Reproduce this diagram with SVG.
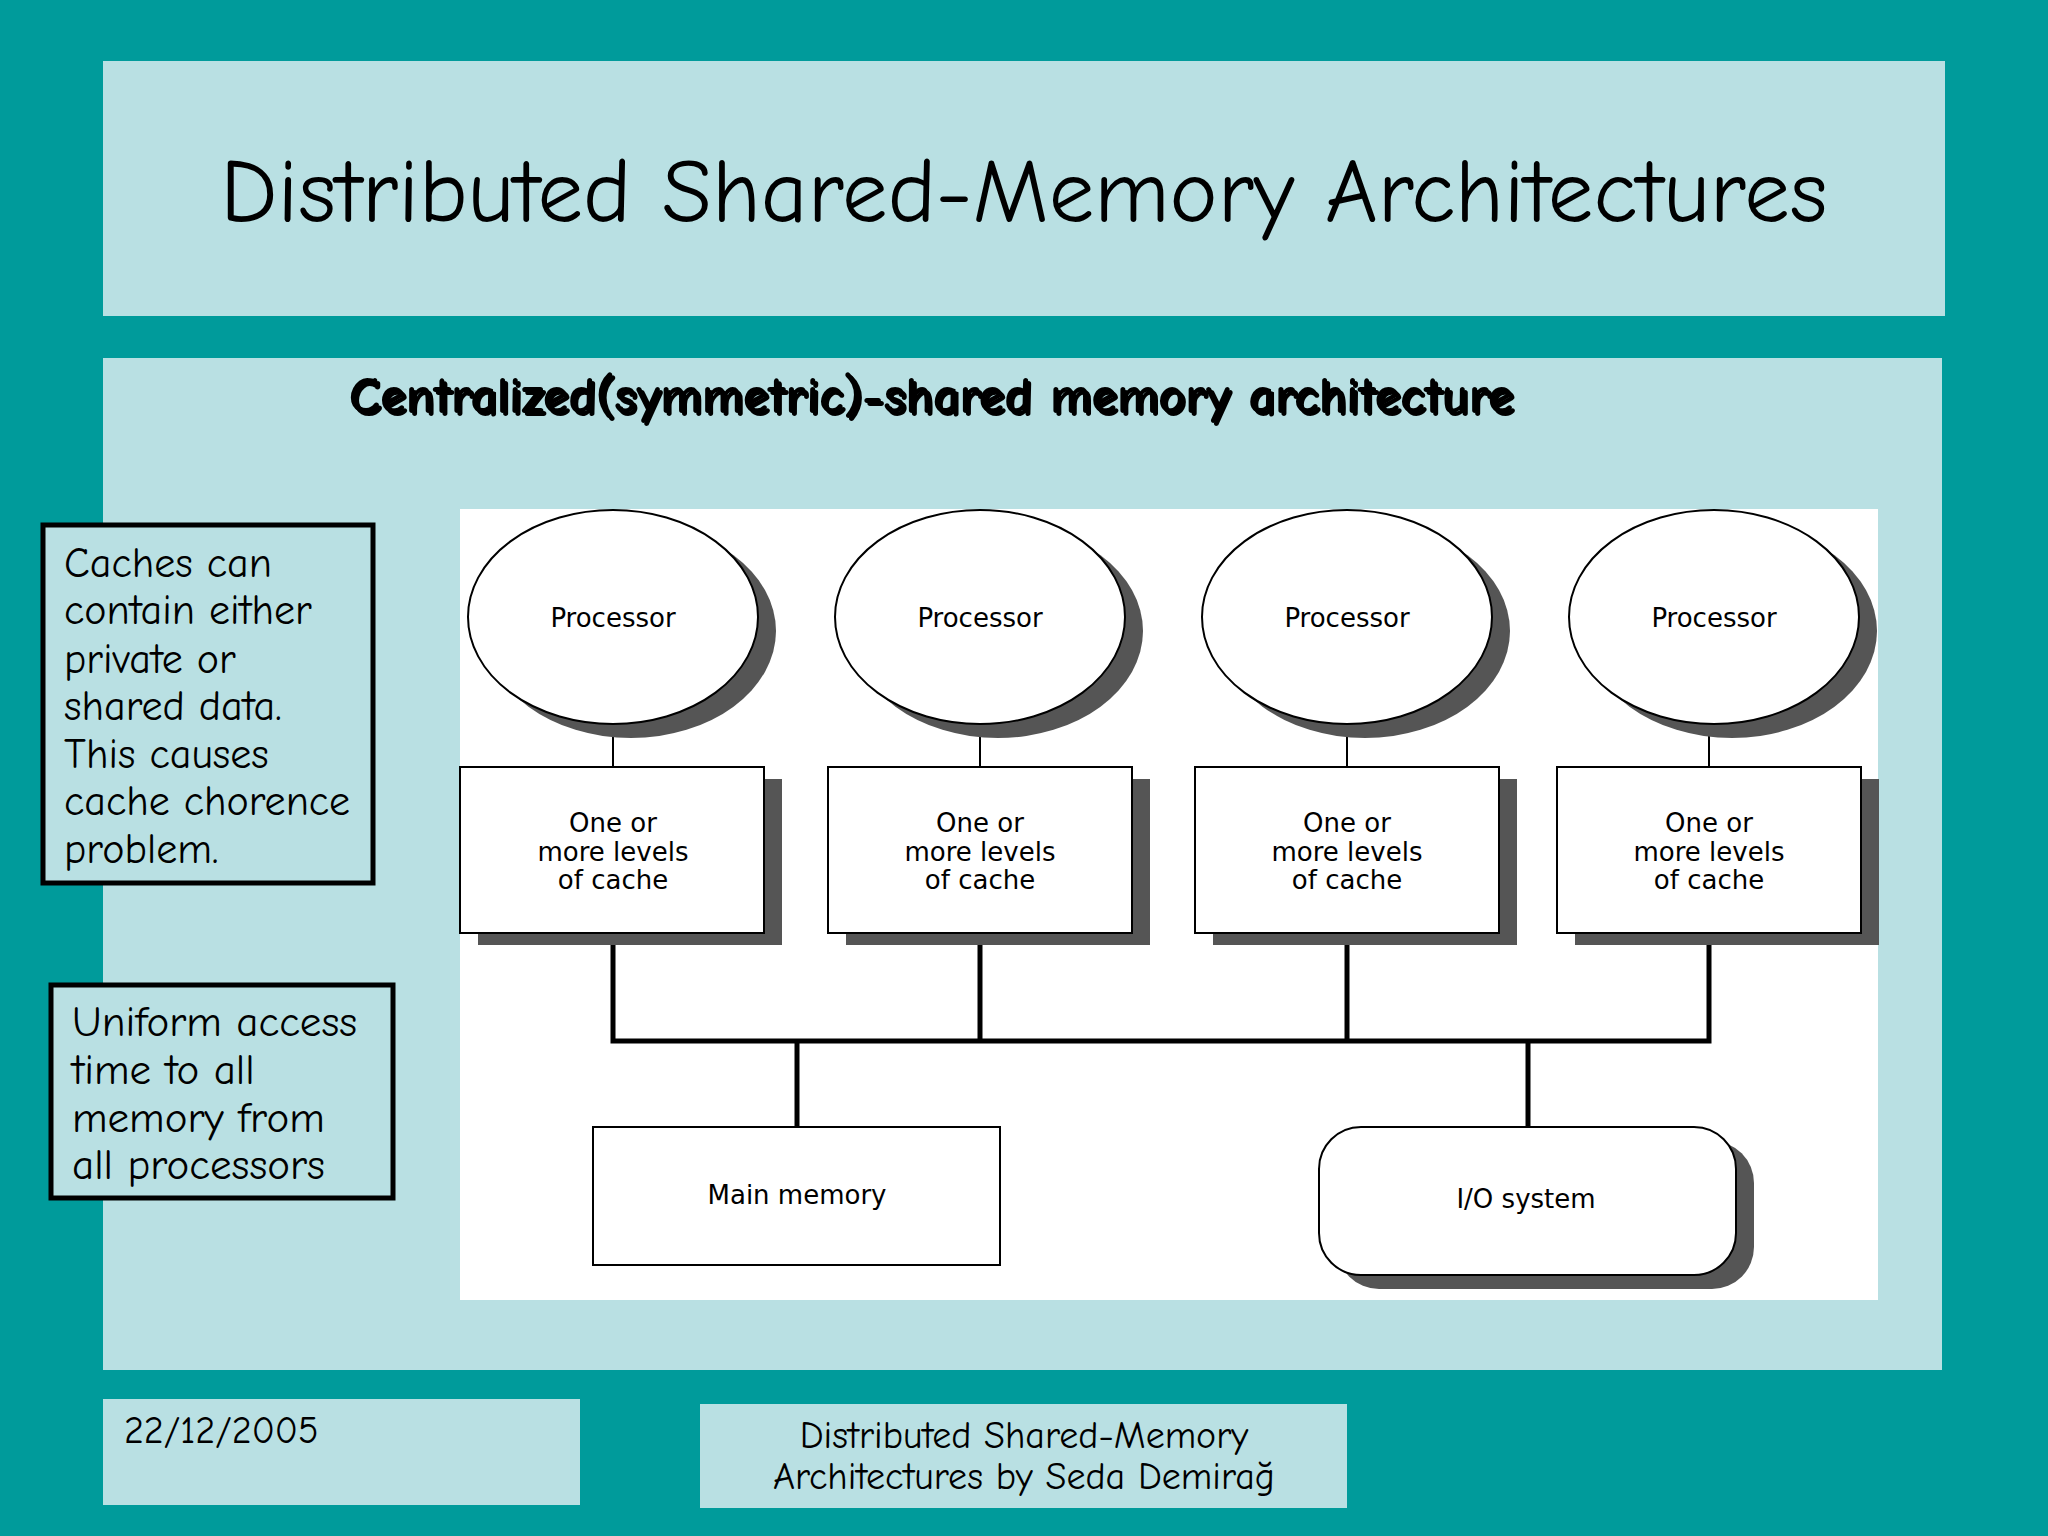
<svg xmlns="http://www.w3.org/2000/svg" width="2048" height="1536" viewBox="0 0 2048 1536">
<style>
.panel{fill:#b9e0e3}
.hand{font-family:"Comic Neue","Comic Sans MS","DejaVu Sans",sans-serif;fill:#000}
.lbl{font-family:"DejaVu Sans","Liberation Sans",sans-serif;font-size:26px;text-anchor:middle;fill:#000}
.shape{fill:#fff;stroke:#000;stroke-width:2}
.shadow{fill:#555}
.thin{stroke:#000;stroke-width:2;fill:none}
.bus{stroke:#000;stroke-width:5;fill:none}
.note{fill:#b9e0e3;stroke:#000;stroke-width:5}
</style>
<rect width="2048" height="1536" fill="#009b9b"/>
<rect class="panel" x="103" y="61" width="1842" height="255"/>
<text class="hand" x="1024" y="222" font-size="91" text-anchor="middle">Distributed Shared-Memory Architectures</text>
<rect class="panel" x="103" y="358" width="1839" height="1012"/>
<text class="hand" x="934" y="416" font-size="52" font-weight="bold" text-anchor="middle" fill="#9aa">Centralized(symmetric)-shared memory architecture</text>
<text class="hand" x="931" y="413" font-size="52" font-weight="bold" text-anchor="middle">Centralized(symmetric)-shared memory architecture</text>
<rect x="460" y="509" width="1418" height="791" fill="#fff"/>
<g id="connectors">
<line class="thin" x1="613" y1="724" x2="613" y2="767"/>
<line class="thin" x1="980" y1="724" x2="980" y2="767"/>
<line class="thin" x1="1347" y1="724" x2="1347" y2="767"/>
<line class="thin" x1="1709" y1="724" x2="1709" y2="767"/>
<polyline class="bus" points="613,933 613,1041 1709,1041 1709,933"/>
<line class="bus" x1="980" y1="933" x2="980" y2="1041"/>
<line class="bus" x1="1347" y1="933" x2="1347" y2="1041"/>
<line class="bus" x1="797" y1="1041" x2="797" y2="1127"/>
<line class="bus" x1="1528" y1="1041" x2="1528" y2="1127"/>
</g>
<g id="p1"><ellipse class="shadow" cx="631" cy="631" rx="145" ry="107"/><ellipse class="shape" cx="613" cy="617" rx="145" ry="107"/><text class="lbl" x="613" y="627">Processor</text></g>
<g id="p2"><ellipse class="shadow" cx="998" cy="631" rx="145" ry="107"/><ellipse class="shape" cx="980" cy="617" rx="145" ry="107"/><text class="lbl" x="980" y="627">Processor</text></g>
<g id="p3"><ellipse class="shadow" cx="1365" cy="631" rx="145" ry="107"/><ellipse class="shape" cx="1347" cy="617" rx="145" ry="107"/><text class="lbl" x="1347" y="627">Processor</text></g>
<g id="p4"><ellipse class="shadow" cx="1732" cy="631" rx="145" ry="107"/><ellipse class="shape" cx="1714" cy="617" rx="145" ry="107"/><text class="lbl" x="1714" y="627">Processor</text></g>
<g id="c1"><rect class="shadow" x="478" y="779" width="304" height="166"/><rect class="shape" x="460" y="767" width="304" height="166"/><text class="lbl" x="613" y="832">One or</text><text class="lbl" x="613" y="861">more levels</text><text class="lbl" x="613" y="889">of cache</text></g>
<g id="c2"><rect class="shadow" x="846" y="779" width="304" height="166"/><rect class="shape" x="828" y="767" width="304" height="166"/><text class="lbl" x="980" y="832">One or</text><text class="lbl" x="980" y="861">more levels</text><text class="lbl" x="980" y="889">of cache</text></g>
<g id="c3"><rect class="shadow" x="1213" y="779" width="304" height="166"/><rect class="shape" x="1195" y="767" width="304" height="166"/><text class="lbl" x="1347" y="832">One or</text><text class="lbl" x="1347" y="861">more levels</text><text class="lbl" x="1347" y="889">of cache</text></g>
<g id="c4"><rect class="shadow" x="1575" y="779" width="304" height="166"/><rect class="shape" x="1557" y="767" width="304" height="166"/><text class="lbl" x="1709" y="832">One or</text><text class="lbl" x="1709" y="861">more levels</text><text class="lbl" x="1709" y="889">of cache</text></g>
<g id="mem"><rect class="shape" x="593" y="1127" width="407" height="138"/><text class="lbl" x="797" y="1204">Main memory</text></g>
<g id="io"><rect class="shadow" x="1337" y="1141" width="417" height="148" rx="42"/><rect class="shape" x="1319" y="1127" width="417" height="148" rx="42"/><text class="lbl" x="1526" y="1208">I/O system</text></g>
<g id="note1"><rect class="note" x="43" y="525" width="330" height="358"/>
<text class="hand" font-size="42"><tspan x="64" y="577">Caches can</tspan><tspan x="64" y="624">contain either</tspan><tspan x="64" y="673">private or</tspan><tspan x="64" y="720">shared data.</tspan><tspan x="64" y="768">This causes</tspan><tspan x="64" y="815">cache chorence</tspan><tspan x="64" y="863">problem.</tspan></text></g>
<g id="note2"><rect class="note" x="51" y="985" width="342" height="213"/>
<text class="hand" font-size="43"><tspan x="72" y="1036">Uniform access</tspan><tspan x="72" y="1084">time to all</tspan><tspan x="72" y="1132">memory from</tspan><tspan x="72" y="1179">all processors</tspan></text></g>
<rect class="panel" x="103" y="1399" width="477" height="106"/>
<text class="hand" x="124" y="1443" font-size="38">22/12/2005</text>
<rect class="panel" x="700" y="1404" width="647" height="104"/>
<text class="hand" font-size="38" text-anchor="middle"><tspan x="1024" y="1448">Distributed Shared-Memory</tspan><tspan x="1024" y="1489">Architectures by Seda Demirağ</tspan></text>
</svg>
